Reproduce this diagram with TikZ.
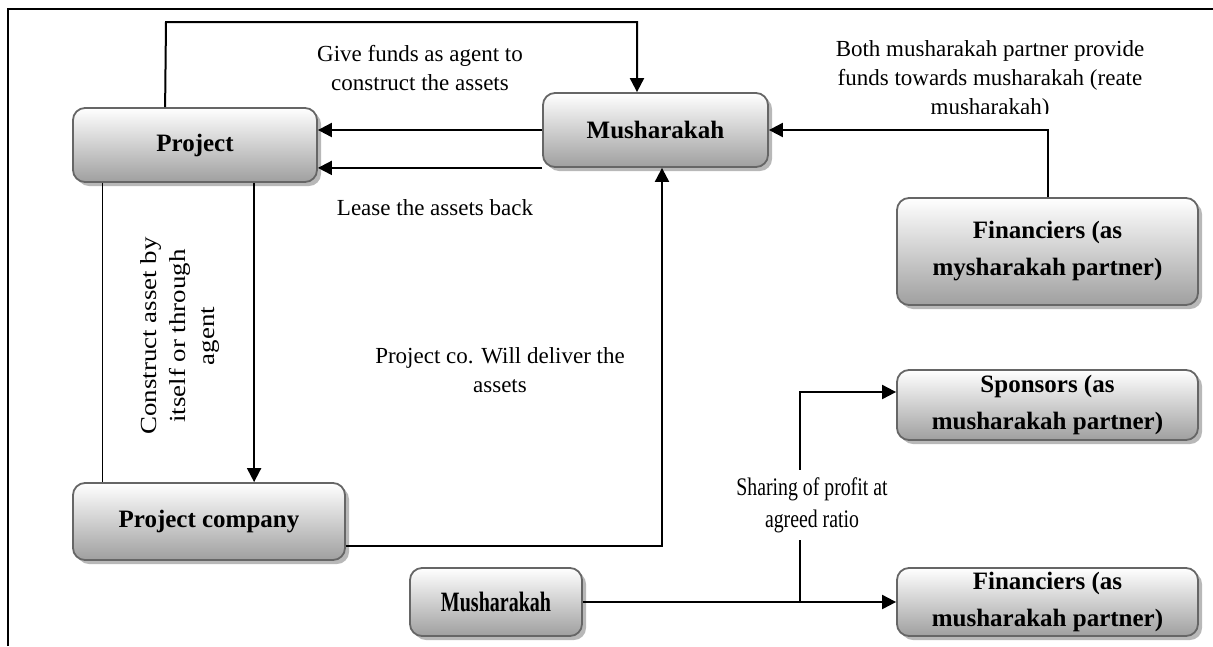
\documentclass[tikz,border=0pt]{standalone}
\usepackage{fontspec}
\setmainfont{Liberation Serif}
\usetikzlibrary{shadows,arrows.meta,calc}
\begin{document}
\begin{tikzpicture}[x=1pt,y=-1pt,
  box/.style={rounded corners=12pt, draw=black!60, line width=1.8pt,
    top color=white, bottom color=gray!75,
    drop shadow={shadow xshift=4pt, shadow yshift=-4pt, fill=black!28, opacity=1},
    font=\fontsize{25}{37}\selectfont\bfseries, align=center, inner sep=0pt},
  lbl/.style={font=\fontsize{23}{29}\selectfont, align=center, inner sep=1pt},
  conn/.style={line width=2pt},
  thinconn/.style={line width=1.2pt},
  arr/.style={conn, -{Triangle[length=14pt,width=14pt]}},
]
\useasboundingbox (0,0) rectangle (1213,646);
\draw[line width=1.8pt] (8,646) -- (8,9) -- (1213,9);

\node[box, minimum width=244pt, minimum height=74pt] (proj) at (195,145) {Project};
\node[box, minimum width=225pt, minimum height=74pt] (mush1) at (655.5,130) {Musharakah};
\node[box, minimum width=301pt, minimum height=107pt] (finA) at (1047.5,251.5) {Financiers (as\\mysharakah partner)};
\node[box, minimum width=272pt, minimum height=77pt] (pc) at (209,521.5) {Project company};
\node[box, minimum width=301pt, minimum height=70pt] (spons) at (1047.5,405) {Sponsors (as\\musharakah partner)};
\node[box, minimum width=172pt, minimum height=68pt] (mush2) at (496,602) {\scalebox{0.8}[1.12]{Musharakah}};
\node[box, minimum width=301pt, minimum height=68pt] (finB) at (1047.5,602) {Financiers (as\\musharakah partner)};

\begin{scope}
\clip (700,30) rectangle (1213,113);
\node[lbl] (l3) at (990,80) {Both musharakah partner provide\\funds towards musharakah (reate\\musharakah)};
\end{scope}

\coordinate (t1) at (166,22);
\coordinate (t2) at (637,22);
\draw[arr] ([xshift=93pt]proj.north west) -- (t1) -- (t2) -- (t2 |- mush1.north);
\draw[arr] (mush1.west) -- (proj.east |- mush1.west);
\draw[arr] (mush1.south west) -- (proj.east |- mush1.south west);
\draw[arr] (finA.north) |- (mush1.east);
\draw[thinconn] ([xshift=30pt]proj.south west) -- ([xshift=30pt]pc.north west);
\draw[arr] ([xshift=182pt]proj.south west) -- ([xshift=182pt]proj.south west |- pc.north);
\coordinate (pcr) at ([yshift=-24pt]pc.east);
\coordinate (up) at (662,0);
\draw[arr] (pcr) -- (up |- pcr) -- (up |- mush1.south);
\draw[arr] (mush2.east) -- (finB.west);
\coordinate (sp) at (800,0);
\coordinate (spa) at (0,392);
\draw[arr] (sp |- mush2.east) -- (sp |- spa) -- (spons.west |- spa);

\node[lbl] (l1) at (420,68) {Give funds as agent to\\construct the assets};
\node[lbl] (l2) at (435,208) {Lease the assets back};
\node[lbl] (l4) at (500,370) {Project co. Will deliver the\\assets};
\node[lbl, rotate=90] (l5) at (180,336) {\scalebox{1.17}[1]{\begin{tabular}{@{}c@{}}Construct asset by\\itself or through\\agent\end{tabular}}};
\node[lbl, fill=white, inner sep=3pt] (l6) at (812,505) {\scalebox{0.86}[1.1]{\begin{tabular}{@{}c@{}}Sharing of profit at\\agreed ratio\end{tabular}}};
\end{tikzpicture}
\end{document}
